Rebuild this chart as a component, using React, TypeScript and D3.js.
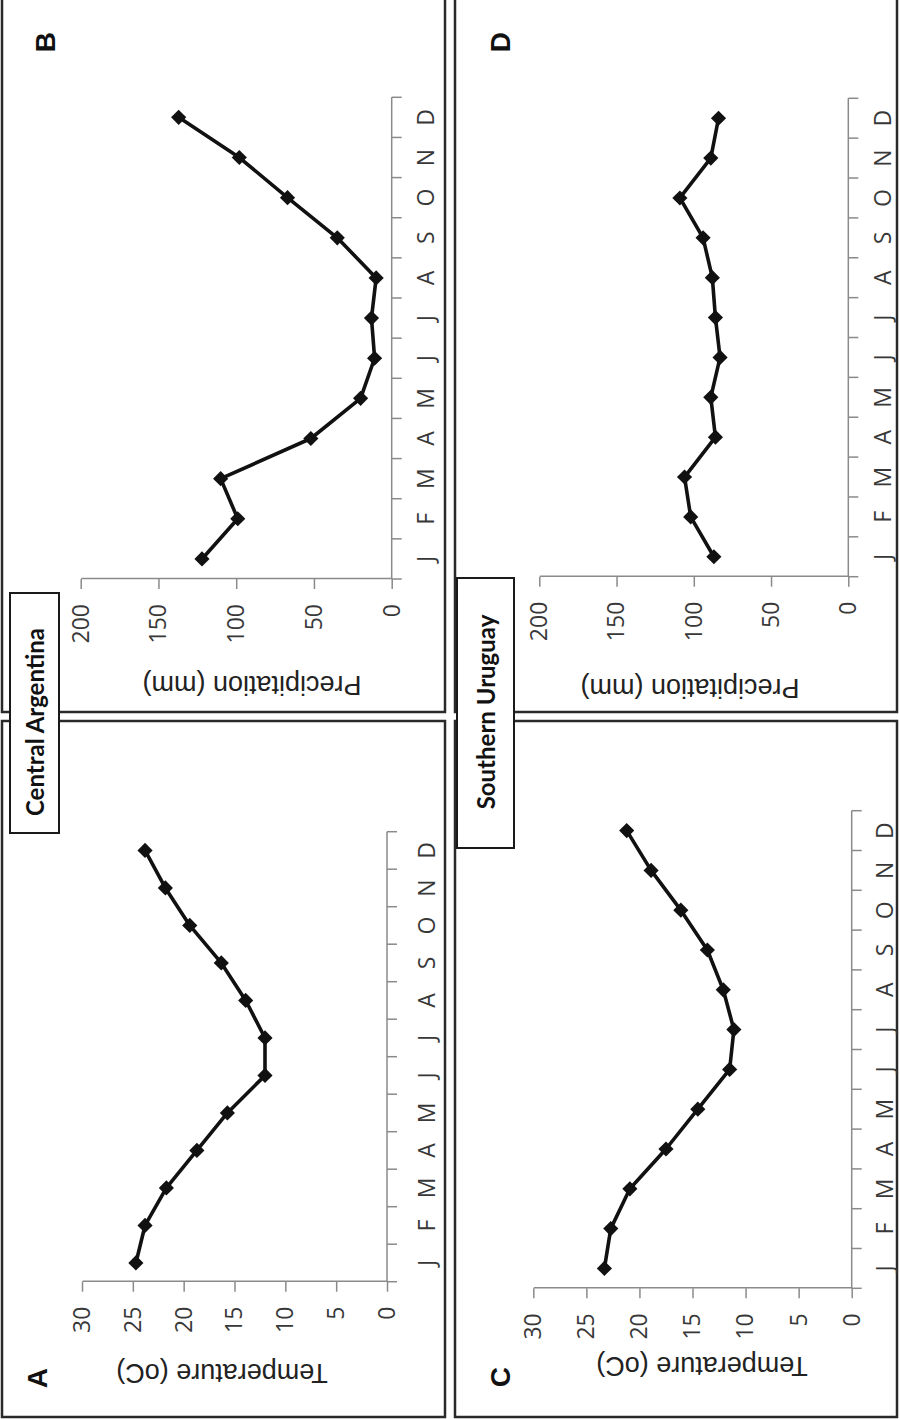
import React, { Component } from 'react';
import * as d3 from 'd3';

const months = ['J', 'F', 'M', 'A', 'M', 'J', 'J', 'A', 'S', 'O', 'N', 'D'];
const tempArgentina = [24.7, 23.8, 21.7, 18.7, 15.7, 12.0, 12.0, 13.9, 16.3, 19.4, 21.8, 23.8];
const precipArgentina = [122, 99, 110, 52, 20, 11, 13, 10, 35, 67, 98, 137];
const tempUruguay = [23.3, 22.7, 20.9, 17.5, 14.5, 11.5, 11.1, 12.1, 13.6, 16.1, 18.9, 21.2];
const precipUruguay = [87, 102, 106, 86, 89, 83, 86, 88, 94, 109, 89, 84];
const tempTicks = [0, 5, 10, 15, 20, 25, 30];
const precipTicks = [0, 50, 100, 150, 200];

// the figure is laid out landscape (1419 x 900) and then turned 90deg
// so frame/band/val are in the landscape frame
const panels = [
  { letter: 'A', data: tempArgentina, ticks: tempTicks, max: 30, title: 'Temperature (oC)',
    frame: [2, 2, 698, 445], band: [137.3, 587.3], val: [387, 82], monthDy: 39,
    letterAt: [41, 37], titleAt: [46, 222] },
  { letter: 'B', data: precipArgentina, ticks: precipTicks, max: 200, title: 'Precipitation (mm)',
    frame: [707, 2, 1421, 445], band: [840, 1321.7], val: [391.7, 80.7], monthDy: 33.5,
    letterAt: [1377, 45], titleAt: [734, 252] },
  { letter: 'C', data: tempUruguay, ticks: tempTicks, max: 30, title: 'Temperature (oC)',
    frame: [2, 455, 698, 897], band: [130.7, 608.3], val: [851.7, 533.3], monthDy: 32,
    letterAt: [42, 500], titleAt: [53, 702] },
  { letter: 'D', data: precipUruguay, ticks: precipTicks, max: 200, title: 'Precipitation (mm)',
    frame: [707, 455, 1421, 897], band: [842.3, 1320.7], val: [848.3, 539.3], monthDy: 33.5,
    letterAt: [1377, 500], titleAt: [731, 690] }
];

const regions = [
  { name: 'Central Argentina', box: [586, 10, 826, 59], at: [697, 34] },
  { name: 'Southern Uruguay', box: [571, 457, 841, 514], at: [707, 485] }
];

const axisGrey = '#8a8a8a';
const tickFont = '"Open Sans", sans-serif';

class App extends Component {
  constructor(props) {
    super(props);
    this.createChart = this.createChart.bind(this);
  }

  componentDidMount() {
    this.createChart();
  }

  componentDidUpdate() {
    this.createChart();
  }

  createChart() {
    const svg = d3.select(this.node);
    svg.selectAll('*').remove();

    const W = 1419;
    const g = svg.append('g').attr('transform', 'translate(0,' + W + ') rotate(-90)');

    panels.forEach(p => {
      g.append('rect')
        .attr('x', p.frame[0]).attr('y', p.frame[1])
        .attr('width', p.frame[2] - p.frame[0]).attr('height', p.frame[3] - p.frame[1])
        .attr('fill', 'none').attr('stroke', '#2a2a2a').attr('stroke-width', 2.5);

      const x = d3.scaleBand().domain(d3.range(12)).range(p.band);
      const y = d3.scaleLinear().domain([0, p.max]).range(p.val);

      // value axis
      const ya = g.append('g')
        .attr('transform', 'translate(' + p.band[0] + ',0)')
        .call(d3.axisLeft(y).tickValues(p.ticks).tickSize(10).tickSizeOuter(0).tickPadding(15));
      ya.select('.domain').attr('stroke', axisGrey).attr('stroke-width', 1.5);
      ya.selectAll('.tick line').attr('stroke', axisGrey).attr('stroke-width', 1.5);
      ya.selectAll('.tick text')
        .attr('font-family', tickFont).attr('font-size', 23).attr('fill', '#383838');

      // month axis, ticks sit between the months
      const xa = g.append('g').attr('transform', 'translate(0,' + y(0) + ')');
      xa.append('line')
        .attr('x1', x.range()[0]).attr('x2', x.range()[1])
        .attr('stroke', axisGrey).attr('stroke-width', 1.5);
      const edges = d3.range(12).map(i => x(i)).concat([x.range()[1]]);
      xa.selectAll('line.tk').data(edges).join('line')
        .attr('class', 'tk')
        .attr('x1', d => d).attr('x2', d => d)
        .attr('y1', 0).attr('y2', 10)
        .attr('stroke', axisGrey).attr('stroke-width', 1.5);
      xa.selectAll('text').data(months).join('text')
        .attr('x', (d, i) => x(i) + x.bandwidth() / 2)
        .attr('y', p.monthDy)
        .attr('text-anchor', 'middle')
        .attr('dominant-baseline', 'central')
        .attr('font-family', tickFont).attr('font-size', 23).attr('fill', '#383838')
        .text(d => d);

      // series
      const line = d3.line()
        .x((d, i) => x(i) + x.bandwidth() / 2)
        .y(d => y(d));
      g.append('path').datum(p.data)
        .attr('d', line)
        .attr('fill', 'none').attr('stroke', '#111').attr('stroke-width', 3.6)
        .attr('stroke-linejoin', 'round');
      g.selectAll(null).data(p.data).join('path')
        .attr('d', d3.symbol().type(d3.symbolSquare).size(115)())
        .attr('transform', (d, i) => 'translate(' + (x(i) + x.bandwidth() / 2) + ',' + y(d) + ') rotate(45)')
        .attr('fill', '#111');

      // axis title
      g.append('text')
        .attr('transform', 'translate(' + p.titleAt[0] + ',' + p.titleAt[1] + ') rotate(-90)')
        .attr('text-anchor', 'middle')
        .attr('dominant-baseline', 'central')
        .attr('font-family', '"Liberation Sans", Arial, sans-serif')
        .attr('font-size', 27).attr('fill', '#222')
        .text(p.title);

      g.append('text')
        .attr('x', p.letterAt[0]).attr('y', p.letterAt[1])
        .attr('text-anchor', 'middle')
        .attr('dominant-baseline', 'central')
        .attr('font-family', '"Liberation Sans", Arial, sans-serif')
        .attr('font-weight', 'bold').attr('font-size', 28).attr('fill', '#111')
        .text(p.letter);
    });

    // region boxes sit on top of the panel borders
    regions.forEach(r => {
      g.append('rect')
        .attr('x', r.box[0]).attr('y', r.box[1])
        .attr('width', r.box[2] - r.box[0]).attr('height', r.box[3] - r.box[1])
        .attr('fill', '#fff').attr('stroke', '#1a1a1a').attr('stroke-width', 2);
      g.append('text')
        .attr('x', r.at[0]).attr('y', r.at[1])
        .attr('text-anchor', 'middle')
        .attr('dominant-baseline', 'central')
        .attr('font-family', 'Lato, sans-serif')
        .attr('font-weight', 'bold').attr('font-size', 24).attr('fill', '#111')
        .text(r.name);
    });
  }

  render() {
    return <svg ref={node => this.node = node}
                width={900} height={1419}
                style={{ position: 'absolute', left: 0, top: 0, background: '#fff' }}>
    </svg>;
  }
}

export default App;
